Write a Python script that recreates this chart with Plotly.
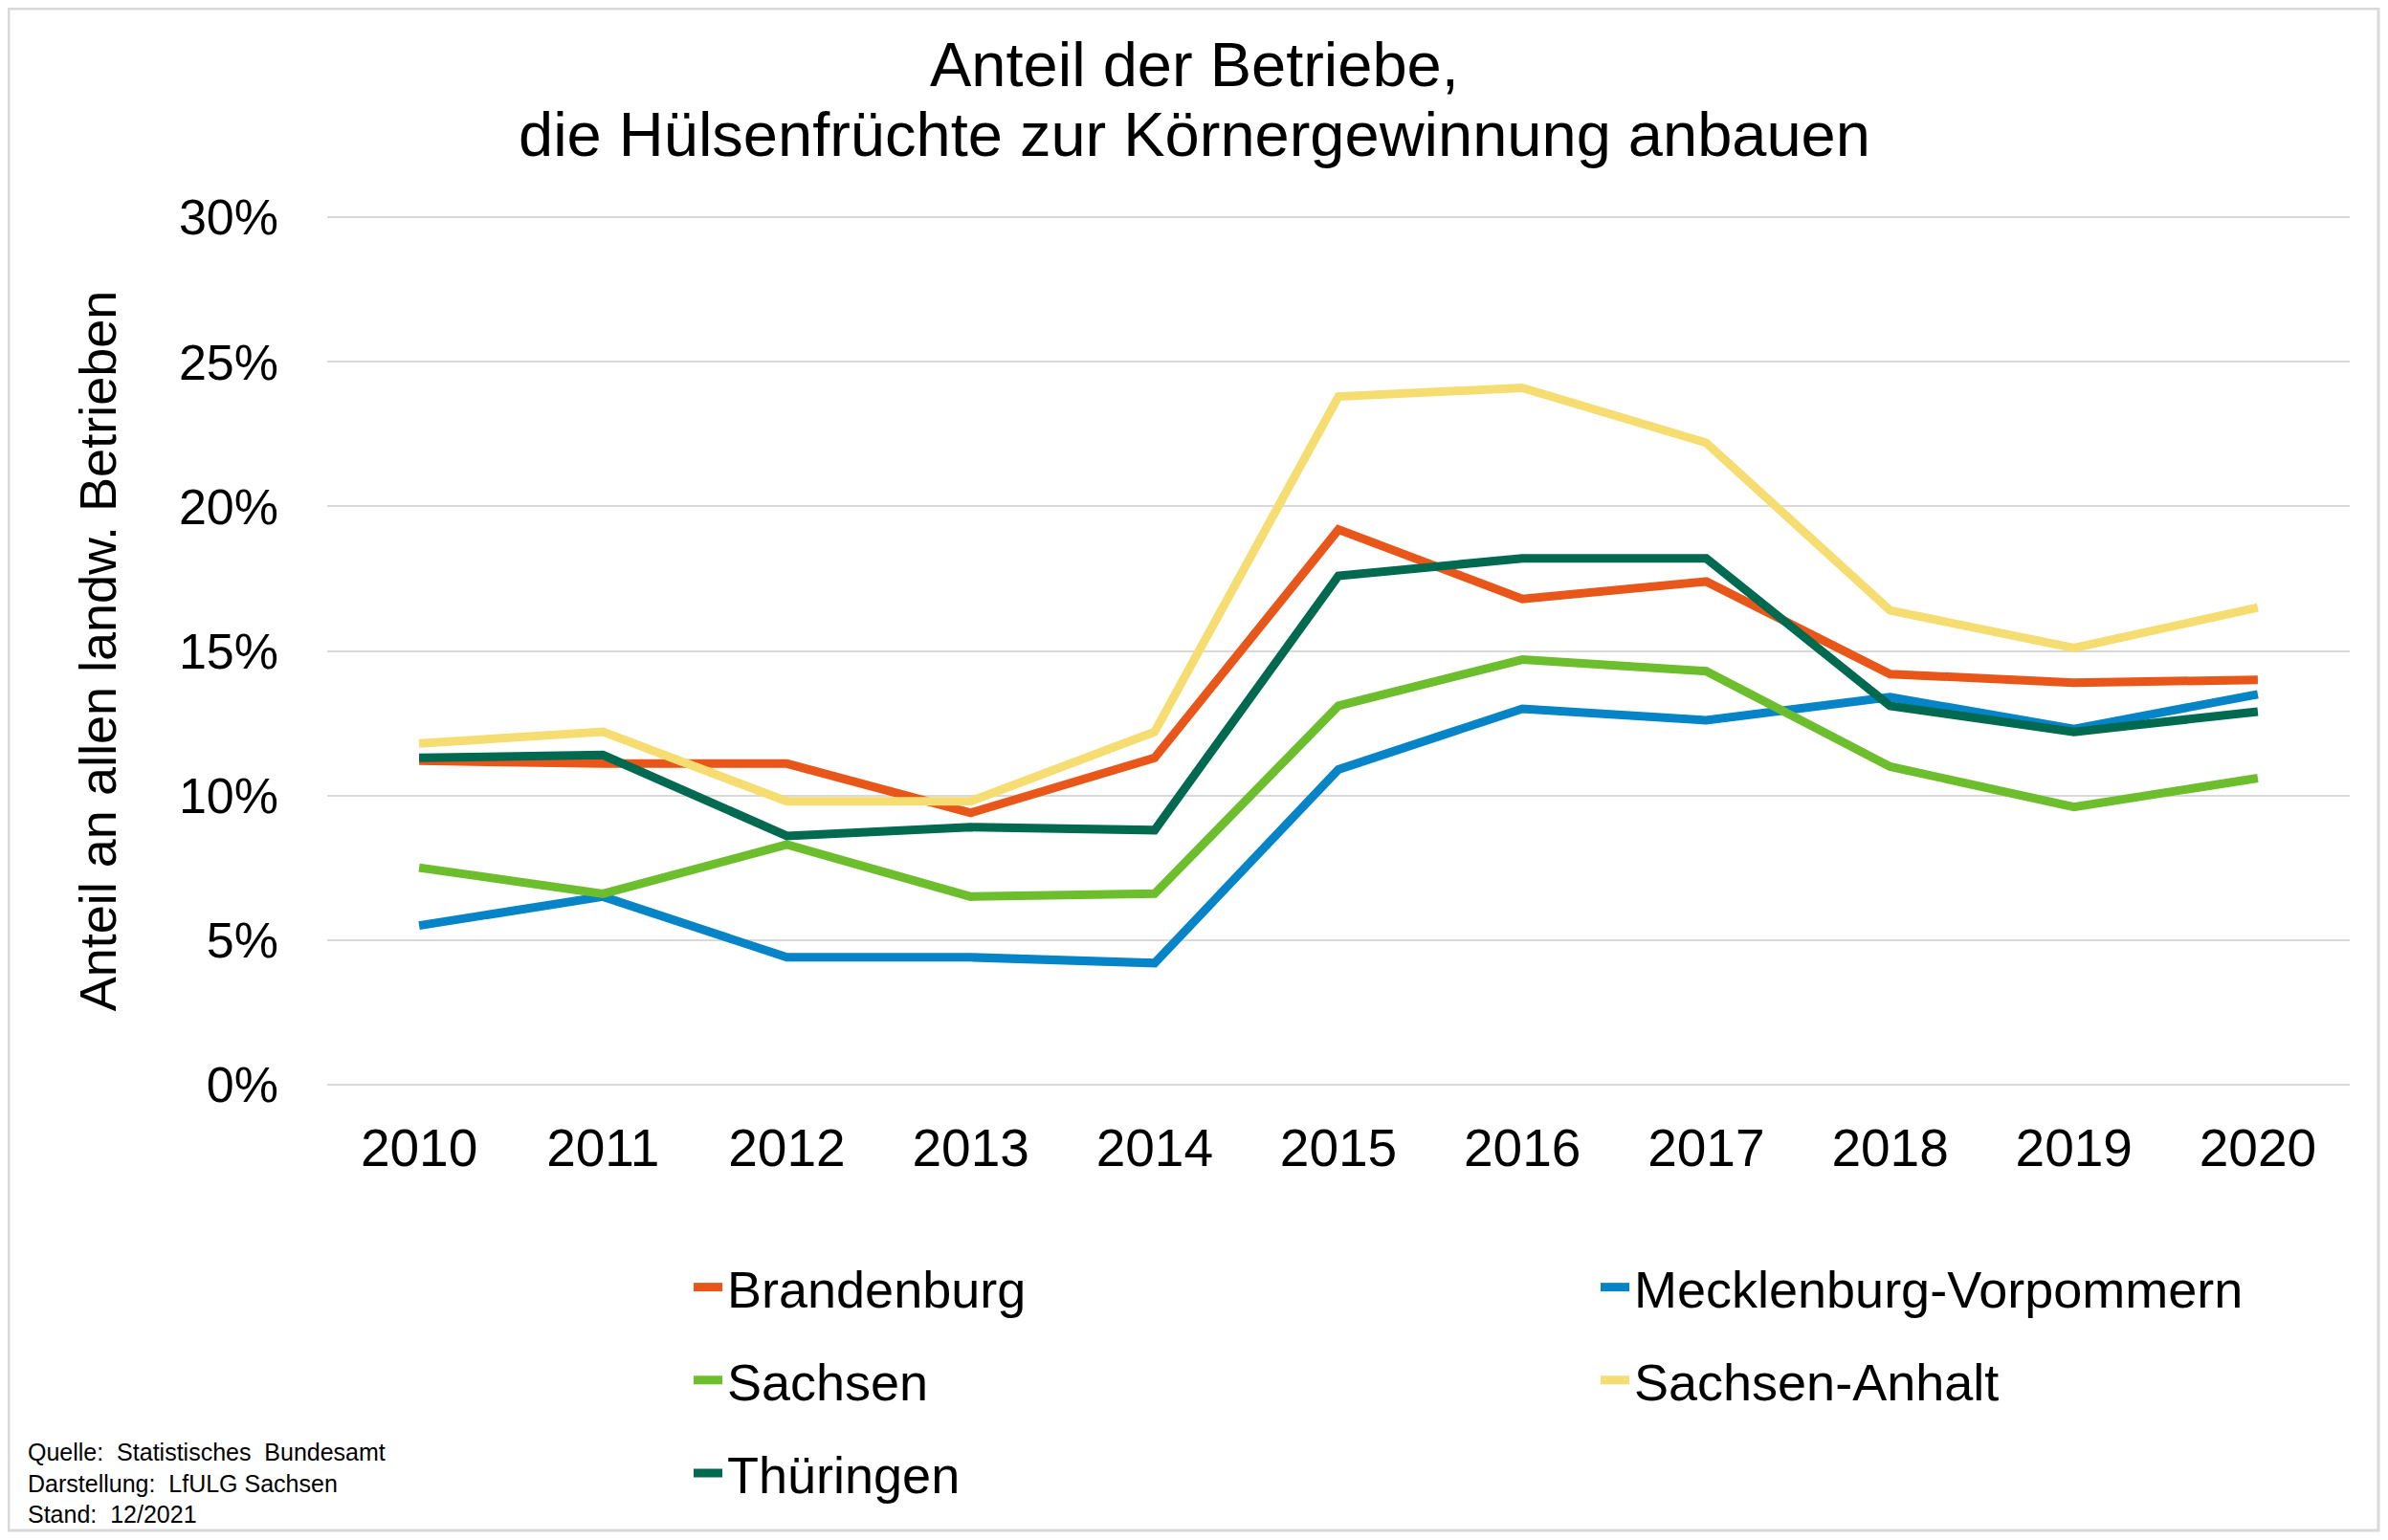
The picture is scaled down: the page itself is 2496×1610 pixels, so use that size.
import plotly.graph_objects as go

years = ["2010", "2011", "2012", "2013", "2014", "2015",
         "2016", "2017", "2018", "2019", "2020"]

brandenburg = [0.112, 0.111, 0.111, 0.094, 0.113, 0.192,
               0.168, 0.174, 0.142, 0.139, 0.140]
mecklenburg_vorpommern = [0.055, 0.065, 0.044, 0.044, 0.042, 0.109,
                          0.130, 0.126, 0.134, 0.123, 0.135]
sachsen = [0.075, 0.066, 0.083, 0.065, 0.066, 0.131,
           0.147, 0.143, 0.110, 0.096, 0.106]
sachsen_anhalt = [0.118, 0.122, 0.098, 0.098, 0.122, 0.238,
                  0.241, 0.222, 0.164, 0.151, 0.165]
thueringen = [0.113, 0.114, 0.086, 0.089, 0.088, 0.176,
              0.182, 0.182, 0.131, 0.122, 0.129]

title_lines = ["Anteil der Betriebe,",
               "die Hülsenfrüchte zur Körnergewinnung anbauen"]
source_note = ["Quelle:  Statistisches  Bundesamt",
               "Darstellung:  LfULG Sachsen",
               "Stand:  12/2021"]

series = [
    ("Brandenburg", brandenburg, "#E8561A", "legend"),
    ("Mecklenburg-Vorpommern", mecklenburg_vorpommern, "#0584C8", "legend2"),
    ("Sachsen", sachsen, "#6DBE2D", "legend"),
    ("Sachsen-Anhalt", sachsen_anhalt, "#F6DD72", "legend2"),
    ("Thüringen", thueringen, "#006A50", "legend"),
]

# the page body keeps its default 8px margin, so the figure is a bit smaller
W, H = 2480, 1594
ML, MR, MT, MB = 334, 32, 218, 467
PW, PH = W - ML - MR, H - MT - MB
FONT = "Liberation Sans, Arial, sans-serif"


def px_x(x):
    """Figure pixel x -> paper x."""
    return (x - ML) / PW


def px_y(y):
    """Figure pixel y (from top) -> paper y."""
    return 1 - (y - MT) / PH


fig = go.Figure()
for name, values, color, legend in series:
    fig.add_trace(
        go.Scatter(
            x=years,
            y=values,
            mode="lines",
            name=name,
            legend=legend,
            legendgroup=name,
            line=dict(color=color, width=9),
        )
    )

legend_style = dict(
    orientation="v",
    xanchor="left",
    y=px_y(1296),
    yanchor="top",
    font=dict(size=54),
    tracegroupgap=24,
    bgcolor="rgba(0,0,0,0)",
)
fig.update_layout(
    width=W,
    height=H,
    margin=dict(l=ML, r=MR, t=MT, b=MB),
    paper_bgcolor="white",
    plot_bgcolor="white",
    font=dict(family=FONT, color="black"),
    legend=dict(x=px_x(712), **legend_style),
    legend2=dict(x=px_x(1660), **legend_style),
    showlegend=True,
)

for text, y in zip(title_lines, [59, 132]):
    fig.add_annotation(
        text=text,
        xref="paper",
        yref="paper",
        x=px_x(W / 2),
        y=px_y(y),
        xanchor="center",
        yanchor="middle",
        showarrow=False,
        font=dict(size=65, color="black"),
    )

fig.update_xaxes(
    type="category",
    range=[-0.5, len(years) - 0.5],
    showgrid=False,
    showline=False,
    zeroline=False,
    ticks="",
    tickfont=dict(size=55),
    ticklabelstandoff=28,
)
fig.update_yaxes(
    range=[-0.0004, 0.3004],
    tickvals=[0, 0.05, 0.10, 0.15, 0.20, 0.25, 0.30],
    tickformat=".0%",
    showgrid=True,
    gridcolor="#D9D9D9",
    gridwidth=2,
    showline=False,
    zeroline=False,
    ticks="",
    tickfont=dict(size=52),
    ticklabelstandoff=50,
    title=dict(text="Anteil an allen landw. Betrieben", font=dict(size=54), standoff=48),
)

# source note
fig.add_annotation(
    text="<br>".join(source_note),
    xref="paper",
    yref="paper",
    x=px_x(19),
    y=px_y(1542),
    xanchor="left",
    yanchor="middle",
    align="left",
    showarrow=False,
    font=dict(size=25, color="black"),
)

# thin frame round the whole chart
fig.add_shape(
    type="rect",
    xref="paper",
    yref="paper",
    x0=px_x(1),
    x1=px_x(W - 2),
    y0=px_y(H - 2),
    y1=px_y(1),
    line=dict(color="#D9D9D9", width=3),
    layer="below",
)

fig.write_html("out.html")
